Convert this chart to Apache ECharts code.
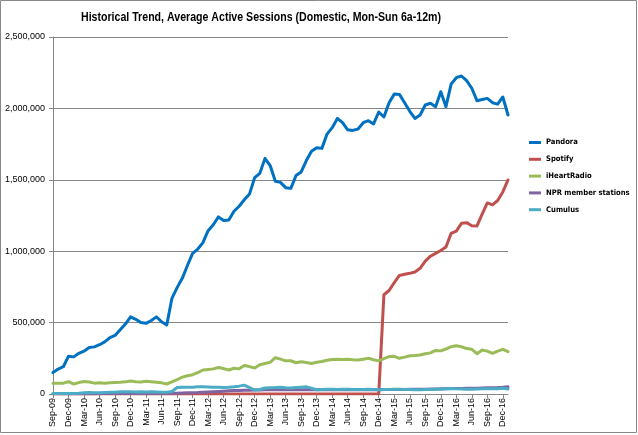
<!DOCTYPE html>
<html>
<head>
<meta charset="utf-8">
<script src="https://cdn.jsdelivr.net/npm/echarts@6/dist/echarts.min.js"></script>
<style>
html,body{margin:0;padding:0;background:#fff;}
#chart{width:638px;height:435px;}
</style>
</head>
<body>
<div id="chart"></div>
<script>
const titleText = 'Historical Trend, Average Active Sessions (Domestic, Mon-Sun 6a-12m)';
const categories = [
 'Sep-09','Oct-09','Nov-09','Dec-09',
 'Jan-10','Feb-10','Mar-10','Apr-10','May-10','Jun-10','Jul-10','Aug-10','Sep-10','Oct-10','Nov-10','Dec-10',
 'Jan-11','Feb-11','Mar-11','Apr-11','May-11','Jun-11','Jul-11','Aug-11','Sep-11','Oct-11','Nov-11','Dec-11',
 'Jan-12','Feb-12','Mar-12','Apr-12','May-12','Jun-12','Jul-12','Aug-12','Sep-12','Oct-12','Nov-12','Dec-12',
 'Jan-13','Feb-13','Mar-13','Apr-13','May-13','Jun-13','Jul-13','Aug-13','Sep-13','Oct-13','Nov-13','Dec-13',
 'Jan-14','Feb-14','Mar-14','Apr-14','May-14','Jun-14','Jul-14','Aug-14','Sep-14','Oct-14','Nov-14','Dec-14',
 'Jan-15','Feb-15','Mar-15','Apr-15','May-15','Jun-15','Jul-15','Aug-15','Sep-15','Oct-15','Nov-15','Dec-15',
 'Jan-16','Feb-16','Mar-16','Apr-16','May-16','Jun-16','Jul-16','Aug-16','Sep-16','Oct-16','Nov-16','Dec-16',
 'Jan-17'
];
const seriesNames = ['Pandora','Spotify','iHeartRadio','NPR member stations','Cumulus'];
// values in thousands
const pandora = [
 150,175,191,265,260,285,300,325,330,345,365,395,410,450,490,540,523,500,495,515,
 540,506,483,670,745,810,900,985,1015,1060,1144,1185,1240,1215,1218,1280,1315,1360,1400,1515,
 1545,1650,1600,1490,1482,1445,1440,1530,1555,1635,1700,1725,1720,1820,1865,1930,1900,1850,1846,1856,
 1900,1914,1891,1975,1940,2040,2100,2098,2040,1980,1930,1954,2024,2036,2012,2117,2012,2170,2215,2227,
 2194,2141,2054,2062,2070,2040,2030,2080,1954
];
const spotify = [
 0,0,0,0,0,0,0,0,0,0,0,0,0,0,0,0,0,0,0,0,
 0,0,0,0,0,0,0,0,0,0,0,0,0,0,0,0,0,0,0,0,
 0,0,0,0,0,0,0,0,0,0,0,0,0,0,0,0,0,0,0,0,
 0,0,0,0,695,725,780,830,838,845,854,880,930,965,985,1005,1030,1125,1141,1195,
 1200,1178,1177,1260,1338,1325,1355,1415,1499
];
const iheart = [
 75,75,76,86,70,80,88,84,76,79,76,78,80,82,85,91,86,84,90,86,
 82,78,70,85,100,118,128,135,150,168,172,176,186,178,168,180,176,200,192,182,
 205,214,222,254,244,232,233,219,226,220,214,222,228,236,242,243,242,243,240,238,
 244,250,240,232,248,262,264,250,258,268,270,273,282,288,305,302,315,331,338,331,
 318,313,282,308,300,285,300,313,296
];
const npr = [
 2,2,2,2,2,2,2,2,2,3,3,3,3,3,3,4,4,4,4,4,
 5,5,5,6,6,7,8,9,10,12,14,16,18,20,22,24,25,26,27,28,
 28,29,30,30,30,30,30,30,30,30,30,30,30,30,30,30,30,30,30,30,
 30,30,30,30,31,31,32,32,32,33,33,34,34,35,35,36,37,38,38,39,
 40,40,41,42,43,44,45,47,50
];
const cumulus = [
 3,3,4,4,4,5,8,10,8,8,10,12,12,15,16,15,14,15,14,15,
 14,12,13,18,45,48,47,48,50,50,49,48,47,46,47,50,55,62,45,28,
 32,42,44,45,47,44,42,46,48,50,40,30,32,33,33,32,34,33,32,31,
 32,33,32,30,31,32,33,33,32,31,30,30,31,32,33,34,36,38,36,35,
 34,34,35,36,37,36,37,40,35
];
const yMin = 0, yMax = 2500000, yInterval = 500000;
const colors = ['#0070C0','#C0504D','#9BBB59','#8064A2','#4BACC6'];
const dataSets = [pandora, spotify, iheart, npr, cumulus];

const cv = document.createElement('canvas').getContext('2d');
function w(font, txt){ cv.font = font; return cv.measureText(txt).width; }
function installed(f){
  const s = 'abcdefghijklmnopqrstuvwxyz0123456789';
  return w('40px "' + f + '", monospace', s) !== w('40px monospace', s);
}
const cands = ['Liberation Sans Narrow','DejaVu Sans Condensed','Liberation Sans'];
let fam = 'Liberation Sans';
for (const c of cands) { if (installed(c)) { fam = c; break; } }
const FONT = '"' + fam + '", "Liberation Sans", sans-serif';
function fit(txt, weight, target){
  const base = 20;
  return Math.round(base * target / w(weight + ' ' + base + 'px ' + FONT, txt) * 10) / 10;
}
const legendSize = Math.min(10.5, fit('NPR member stations', 'bold', 84));
const axisFont = '"Liberation Sans", sans-serif';
const titleFont = 'bold 13.5px "Liberation Sans", sans-serif';
const titleScale = 360 / w(titleFont, titleText);

const chart = echarts.init(document.getElementById('chart'), null, {renderer:'canvas'});
const fmt = v => v.toString().replace(/\B(?=(\d{3})+(?!\d))/g, ',');

chart.setOption({
  animation: false,
  backgroundColor: '#fff',
  color: colors,
  legend: {
    orient: 'vertical', left: 529, top: 137, padding: 0,
    itemWidth: 12, itemHeight: 3, itemGap: 5.8, icon: 'rect',
    textStyle: {fontFamily: FONT, fontSize: legendSize, fontWeight: 'bold', color: '#000', lineHeight: 11},
    data: seriesNames
  },
  grid: {left: 53, right: 130, top: 37, bottom: 41, containLabel: false, outerBoundsMode: 'none'},
  xAxis: {
    type: 'category', data: categories, boundaryGap: false,
    axisLine: {lineStyle: {color: '#868686', width: 1}},
    axisTick: {show: true, interval: 2, length: 4, lineStyle: {color: '#868686'}},
    axisLabel: {interval: 2, rotate: 90, margin: 4, fontFamily: axisFont, fontSize: 9, color: '#000'},
    splitLine: {show: false}
  },
  yAxis: {
    type: 'value', min: yMin, max: yMax, interval: yInterval,
    axisLine: {show: true, lineStyle: {color: '#868686', width: 1}},
    axisTick: {show: true, length: 4, lineStyle: {color: '#868686'}},
    axisLabel: {margin: 8, fontFamily: axisFont, fontSize: 9, color: '#000', formatter: fmt},
    splitLine: {lineStyle: {color: '#868686', width: 1}}
  },
  graphic: [{
    type: 'rect', shape: {x: 0.5, y: 0.5, width: 636, height: 432},
    style: {fill: 'none', stroke: '#888', lineWidth: 1}, silent: true, z: 100
  }, {
    type: 'text', x: 261, y: 17.5, scaleX: titleScale, silent: true, z: 100,
    style: {text: titleText, font: titleFont, fill: '#000', align: 'center', verticalAlign: 'middle'}
  }],
  series: seriesNames.map((n, i) => ({
    name: n, type: 'line', showSymbol: false, symbol: 'none',
    data: dataSets[i].map(v => v * 1000),
    lineStyle: {width: 3, color: colors[i], cap: 'round', join: 'round'},
    itemStyle: {color: colors[i]},
    z: 2 + i
  }))
});
</script>
</body>
</html>
